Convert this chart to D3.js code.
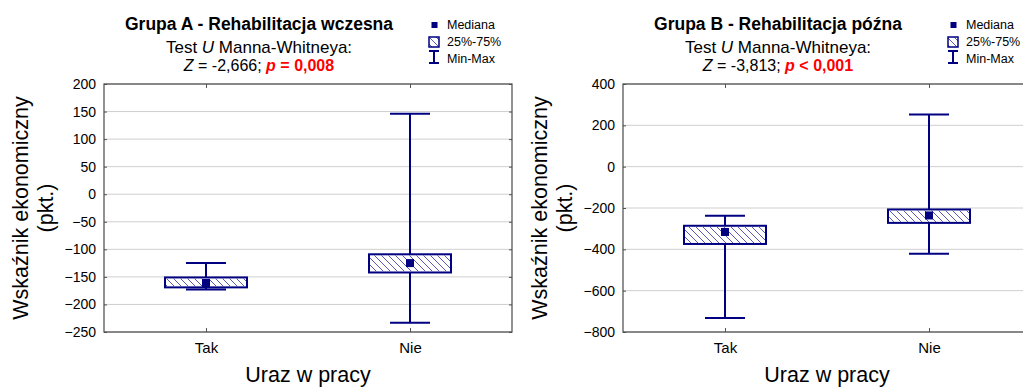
<!DOCTYPE html>
<html>
<head>
<meta charset="utf-8">
<script src="https://cdn.jsdelivr.net/npm/d3@7"></script>
<style>
    body { margin: 0; background: #fff; }
    svg { display: block; font-family: "Liberation Sans", Arial, sans-serif; }
</style>
</head>
<body>
<div id="chart"></div>
<script>
// categories on the x axis
var categories = ["Tak", "Nie"];

// Grupa A - rehabilitacja wczesna
var minA = [-173, -233];
var q1A = [-169, -142];
var medA = [-161, -125];
var q3A = [-151, -109];
var maxA = [-125, 146];
var ticksA = [-250, -200, -150, -100, -50, 0, 50, 100, 150, 200];

// Grupa B - rehabilitacja późna
var minB = [-732, -421];
var q1B = [-374, -272];
var medB = [-316, -236];
var q3B = [-286, -207];
var maxB = [-237, 253];
var ticksB = [-800, -600, -400, -200, 0, 200, 400];

var navy = "#000080";

var svg = d3.select("#chart")
    .append("svg")
    .attr("width", 1023)
    .attr("height", 387);

// hatch for the 25%-75% boxes
var defs = svg.append("defs");
defs.append("pattern")
    .attr("id", "hatch")
    .attr("patternUnits", "userSpaceOnUse")
    .attr("width", 7)
    .attr("height", 7)
    .append("path")
    .attr("d", "M0,0L7,7M-1,6L1,8M6,-1L8,1")
    .attr("stroke", "#5a5ab4")
    .attr("stroke-width", 1);

function drawPanel(x0, title, zText, pText, mins, q1s, meds, q3s, maxs, ticks) {
    var x1 = x0 + 408, y0 = 84, y1 = 332;
    var g = svg.append("g");

    var x = d3.scalePoint().domain(categories).range([x0, x1]).padding(0.5);
    var y = d3.scaleLinear().domain([ticks[0], ticks[ticks.length - 1]]).range([y1, y0]);

    // grid
    g.selectAll("line.grid")
        .data(ticks)
        .enter().append("line")
        .attr("x1", x0).attr("x2", x1)
        .attr("y1", function (d) { return y(d); })
        .attr("y2", function (d) { return y(d); })
        .attr("stroke", "#cfcfcf")
        .attr("stroke-width", 1);

    // y axis (left) and inward ticks on the right
    var yAxis = g.append("g")
        .attr("transform", "translate(" + x0 + ",0)")
        .call(d3.axisLeft(y).tickValues(ticks).tickSize(-3).tickPadding(8));
    yAxis.select(".domain").remove();
    yAxis.selectAll("text").style("font-size", "14px");
    var yRight = g.append("g")
        .attr("transform", "translate(" + x1 + ",0)")
        .call(d3.axisRight(y).tickValues(ticks).tickSize(-3).tickFormat(""));
    yRight.select(".domain").remove();

    // x axis with inward ticks, top ticks too
    var xAxis = g.append("g")
        .attr("transform", "translate(0," + y1 + ")")
        .call(d3.axisBottom(x).tickSize(-4).tickPadding(10));
    xAxis.select(".domain").remove();
    xAxis.selectAll("text").style("font-size", "15px");
    var xTop = g.append("g")
        .attr("transform", "translate(0," + y0 + ")")
        .call(d3.axisTop(x).tickSize(-4).tickFormat(""));
    xTop.select(".domain").remove();

    g.selectAll(".tick line").attr("stroke", "#555");
    g.selectAll(".tick text")
        .attr("fill", "#000")
        .style("font-family", "Liberation Sans, Arial, sans-serif");

    // frame
    g.append("rect")
        .attr("x", x0).attr("y", y0)
        .attr("width", x1 - x0).attr("height", y1 - y0)
        .attr("fill", "none")
        .attr("stroke", "#4a4a4a")
        .attr("stroke-width", 1.2);

    var boxW = 82, capW = 40;
    var idx = d3.range(categories.length);

    // whiskers
    g.selectAll("line.whisker")
        .data(idx)
        .enter().append("line")
        .attr("x1", function (i) { return x(categories[i]); })
        .attr("x2", function (i) { return x(categories[i]); })
        .attr("y1", function (i) { return y(mins[i]); })
        .attr("y2", function (i) { return y(maxs[i]); })
        .attr("stroke", navy).attr("stroke-width", 2);
    [mins, maxs].forEach(function (arr) {
        g.selectAll(null)
            .data(idx)
            .enter().append("line")
            .attr("x1", function (i) { return x(categories[i]) - capW / 2; })
            .attr("x2", function (i) { return x(categories[i]) + capW / 2; })
            .attr("y1", function (i) { return y(arr[i]); })
            .attr("y2", function (i) { return y(arr[i]); })
            .attr("stroke", navy).attr("stroke-width", 2);
    });

    // boxes
    g.selectAll("rect.box")
        .data(idx)
        .enter().append("rect")
        .attr("x", function (i) { return x(categories[i]) - boxW / 2; })
        .attr("y", function (i) { return y(q3s[i]); })
        .attr("width", boxW)
        .attr("height", function (i) { return y(q1s[i]) - y(q3s[i]); })
        .attr("fill", "#fff")
        .attr("stroke", navy).attr("stroke-width", 2);
    g.selectAll("rect.hatch")
        .data(idx)
        .enter().append("rect")
        .attr("x", function (i) { return x(categories[i]) - boxW / 2 + 1; })
        .attr("y", function (i) { return y(q3s[i]) + 1; })
        .attr("width", boxW - 2)
        .attr("height", function (i) { return y(q1s[i]) - y(q3s[i]) - 2; })
        .attr("fill", "url(#hatch)");

    // medians
    g.selectAll("rect.median")
        .data(idx)
        .enter().append("rect")
        .attr("x", function (i) { return x(categories[i]) - 4; })
        .attr("y", function (i) { return y(meds[i]) - 4; })
        .attr("width", 8).attr("height", 8)
        .attr("fill", navy);

    // axis titles
    var ylab = g.append("text")
        .attr("transform", "translate(" + (x0 - 76) + "," + ((y0 + y1) / 2) + ") rotate(-90)")
        .attr("text-anchor", "middle")
        .style("font-size", "21.5px");
    ylab.append("tspan").attr("x", 0).attr("y", 0).text("Wskaźnik ekonomiczny");
    ylab.append("tspan").attr("x", 0).attr("y", 25).text("(pkt.)");

    g.append("text")
        .attr("x", (x0 + x1) / 2).attr("y", 382)
        .attr("text-anchor", "middle")
        .style("font-size", "21.5px")
        .text("Uraz w pracy");

    // chart title
    var cx = x0 + 155;
    g.append("text")
        .attr("x", cx).attr("y", 30)
        .attr("text-anchor", "middle")
        .style("font-size", "17.5px")
        .style("font-weight", "bold")
        .text(title);
    var sub = g.append("text")
        .attr("x", cx).attr("y", 53)
        .attr("text-anchor", "middle")
        .style("font-size", "17px");
    sub.append("tspan").text("Test ");
    sub.append("tspan").style("font-style", "italic").text("U");
    sub.append("tspan").text(" Manna-Whitneya:");
    var stat = g.append("text")
        .attr("x", cx).attr("y", 71)
        .attr("text-anchor", "middle")
        .style("font-size", "16px");
    stat.append("tspan").style("font-style", "italic").text("Z");
    stat.append("tspan").text(" = " + zText + "; ");
    stat.append("tspan").attr("fill", "#ff0000").style("font-weight", "bold")
        .style("font-style", "italic").text("p");
    stat.append("tspan").attr("fill", "#ff0000").style("font-weight", "bold")
        .text(" " + pText);

    // legend
    var lx = x0 + 330;
    var leg = g.append("g").style("font-size", "12.5px");
    leg.append("rect").attr("x", lx - 2.5).attr("y", 22).attr("width", 6).attr("height", 6).attr("fill", navy);
    leg.append("rect").attr("x", lx - 5).attr("y", 37).attr("width", 10).attr("height", 10)
        .attr("fill", "url(#hatch)").attr("stroke", navy).attr("stroke-width", 1.5);
    leg.append("line").attr("x1", lx).attr("x2", lx).attr("y1", 51).attr("y2", 63).attr("stroke", navy).attr("stroke-width", 2);
    leg.append("line").attr("x1", lx - 5).attr("x2", lx + 5).attr("y1", 51).attr("y2", 51).attr("stroke", navy).attr("stroke-width", 2);
    leg.append("line").attr("x1", lx - 5).attr("x2", lx + 5).attr("y1", 63).attr("y2", 63).attr("stroke", navy).attr("stroke-width", 2);
    leg.selectAll("text.lg")
        .data(["Mediana", "25%-75%", "Min-Max"])
        .enter().append("text")
        .attr("x", lx + 13)
        .attr("y", function (d, i) { return 25 + i * 17; })
        .attr("dy", "0.35em")
        .text(function (d) { return d; });
}

drawPanel(104, "Grupa A - Rehabilitacja wczesna", "-2,666", "= 0,008",
    minA, q1A, medA, q3A, maxA, ticksA);
drawPanel(623, "Grupa B - Rehabilitacja późna", "-3,813", "< 0,001",
    minB, q1B, medB, q3B, maxB, ticksB);
</script>
</body>
</html>
